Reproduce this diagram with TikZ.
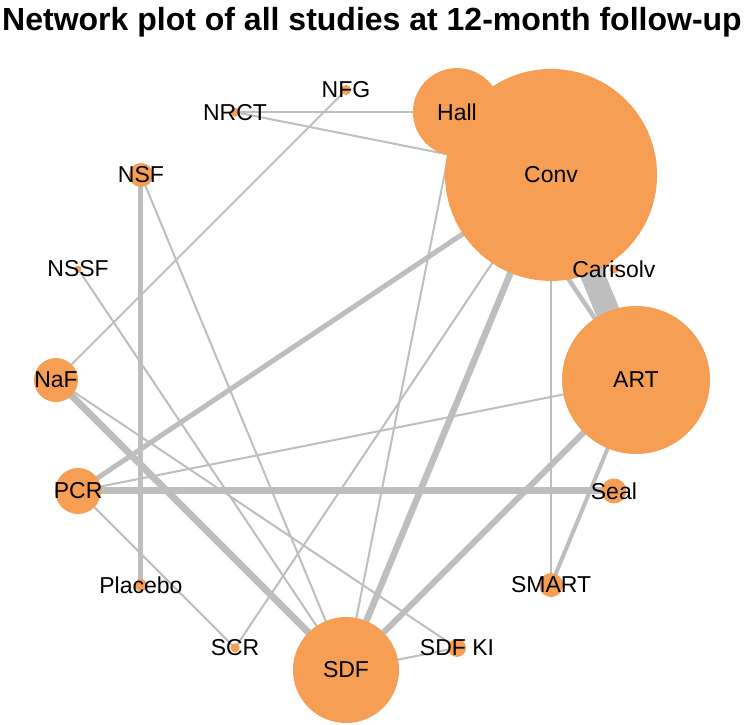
\documentclass[tikz,border=0pt]{standalone}
\usepackage{fontspec}
\setmainfont{Liberation Sans}
\definecolor{trtfill}{RGB}{246,158,84}
\definecolor{edgegray}{RGB}{190,190,190}

\begin{document}
\begin{tikzpicture}
  [x=1pt,y=-1pt,
   edge/.style={draw=edgegray},
   trt/.style={circle,fill=trtfill,inner sep=0pt,minimum size=#1},
   lab/.style={font=\fontsize{23}{27}\selectfont}]
  \useasboundingbox (0,0) rectangle (744,725);
  \node [font=\fontsize{32}{38}\selectfont\bfseries] (title) at (372,22) {Network plot of all studies at 12-month follow-up};

  \foreach \name [count=\i from 0] in {ART,Carisolv,Conv,Hall,NFG,NRCT,NSF,NSSF,NaF,PCR,Placebo,SCR,SDF,SDFKI,SMART,Seal}
    \coordinate (\name) at ({346+290*cos(\i*22.5)},{380-290*sin(\i*22.5)});

  \foreach \from/\to/\w in {Conv/ART/24, Hall/ART/4.5, Conv/SDF/6.5, ART/SDF/6, NaF/SDF/7, PCR/Seal/7, PCR/Conv/5, NSF/Placebo/5, ART/SMART/4, NRCT/Hall/2, NRCT/Conv/2, NFG/NaF/2, Hall/SDF/2, NSF/SDF/2, NSSF/SDF/2, NaF/SDFKI/2, PCR/ART/2, PCR/SCR/2, SCR/Conv/2, Conv/SMART/2, SDF/SDFKI/2}
    \draw [edge,line width=\w pt] (\from) -- (\to);

  \foreach \name/\d in {ART/148, Carisolv/9, Conv/212, Hall/88, NFG/10, NRCT/9, NSF/24, NSSF/7, NaF/44, PCR/46, Placebo/12, SCR/9, SDF/106, SDFKI/18, SMART/24, Seal/25}
    \node [trt=\d pt] (n\name) at (\name) {};

  \foreach \name/\txt in {ART/ART, Carisolv/Carisolv, Conv/Conv, Hall/Hall, NFG/NFG, NRCT/NRCT, NSF/NSF, NSSF/NSSF, NaF/NaF, PCR/PCR, Placebo/Placebo, SCR/SCR, SDF/SDF, SDFKI/SDF KI, SMART/SMART, Seal/Seal}
    \node [lab] (l\name) at (\name) {\txt};

\end{tikzpicture}
\end{document}
